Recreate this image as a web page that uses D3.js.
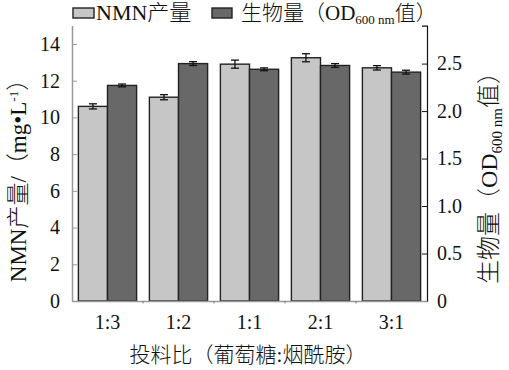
<!DOCTYPE html>
<html>
<head>
<meta charset="utf-8">
<script src="https://d3js.org/d3.v7.min.js"></script>
<style>
  body { margin:0; background:#fff; }
  text { font-family: "Liberation Serif", "Noto Sans CJK SC", serif; fill:#111; }
  .tick text { font-size:20px; }
  .cjk { font-weight:300; }
</style>
</head>
<body>
<script>
// ratio groups and values
var categories = ["1:3", "1:2", "1:1", "2:1", "3:1"];
var nmn    = [10.6, 11.1, 12.9, 13.25, 12.7];   // mg/L
var nmnErr = [0.14, 0.14, 0.22, 0.22, 0.12];
var od     = [2.27, 2.50, 2.44, 2.48, 2.41];    // OD600
var odErr  = [0.015, 0.02, 0.015, 0.02, 0.02];
var leftTicks  = [0, 2, 4, 6, 8, 10, 12, 14];
var rightTicks = [0, 0.5, 1.0, 1.5, 2.0, 2.5];

var W = 509, H = 370;
var pLeft = 72, pRight = 427, pTop = 25.6, pBottom = 301;

var svg = d3.select("body").append("svg")
    .attr("width", W).attr("height", H);

var x = d3.scaleBand().domain(categories).range([pLeft, pRight])
    .paddingInner(0.18).paddingOuter(0.09);
var x1 = d3.scaleBand().domain(["nmn", "od"]).range([0, x.bandwidth()]);

var yL = d3.scaleLinear().domain([0, 15]).range([pBottom, pTop]);
var yR = d3.scaleLinear().domain([0, 2.9]).range([pBottom, pTop]);

var cLight = "#c6c6c6", cDark = "#686868", cEdge = "#222";

var rows = categories.map((c, i) => ({cat: c, nmn: nmn[i], nmnErr: nmnErr[i], od: od[i], odErr: odErr[i]}));

// bars
var g = svg.append("g");
g.selectAll("rect.nmn").data(rows).enter().append("rect")
    .attr("x", d => x(d.cat) + x1("nmn"))
    .attr("y", d => yL(d.nmn))
    .attr("width", x1.bandwidth())
    .attr("height", d => pBottom - yL(d.nmn))
    .attr("fill", cLight).attr("stroke", cEdge).attr("stroke-width", 1.4);
g.selectAll("rect.od").data(rows).enter().append("rect")
    .attr("x", d => x(d.cat) + x1("od"))
    .attr("y", d => yR(d.od))
    .attr("width", x1.bandwidth())
    .attr("height", d => pBottom - yR(d.od))
    .attr("fill", cDark).attr("stroke", cEdge).attr("stroke-width", 1.4);

// error bars
function errBars(key, errKey, y, sub) {
  var eg = g.selectAll("g.e" + key).data(rows).enter().append("g")
      .attr("stroke", "#111").attr("stroke-width", 1.3);
  var cx = d => x(d.cat) + x1(sub) + x1.bandwidth() / 2;
  eg.append("line").attr("x1", cx).attr("x2", cx)
      .attr("y1", d => y(d[key] - d[errKey])).attr("y2", d => y(d[key] + d[errKey]));
  [1, -1].forEach(s => {
    eg.append("line").attr("x1", d => cx(d) - 4).attr("x2", d => cx(d) + 4)
      .attr("y1", d => y(d[key] + s * d[errKey])).attr("y2", d => y(d[key] + s * d[errKey]));
  });
}
errBars("nmn", "nmnErr", yL, "nmn");
errBars("od", "odErr", yR, "od");

// left axis
var axL = svg.append("g").attr("transform", "translate(" + pLeft + ",0)")
    .call(d3.axisLeft(yL).tickValues(leftTicks).tickSizeInner(-5).tickSizeOuter(0).tickPadding(12));
axL.select(".domain").attr("stroke", "#999").attr("stroke-width", 1.5);
axL.selectAll(".tick line").attr("stroke", "#999");

// right axis
var axR = svg.append("g").attr("transform", "translate(" + pRight + ",0)")
    .call(d3.axisRight(yR).tickValues(rightTicks).tickSizeInner(-5).tickSizeOuter(-5).tickPadding(10)
      .tickFormat(d => d === 0 ? "0" : d.toFixed(1)));
axR.select(".domain").attr("stroke", "#111").attr("stroke-width", 1.2);
axR.selectAll(".tick line").attr("stroke", "#111");

// bottom axis
var axB = svg.append("g").attr("transform", "translate(0," + pBottom + ")")
    .call(d3.axisBottom(x).tickSize(0).tickPadding(14).tickSizeOuter(0));
axB.select(".domain").attr("stroke", "#999").attr("stroke-width", 1.5);
axB.selectAll(".tick text").attr("dy", "0.71em");
axB.selectAll("line.sep").data(categories.slice(0, -1)).enter().append("line")
    .attr("class", "sep")
    .attr("x1", d => x(d) + x.bandwidth() + x.step() * x.paddingInner() / 2)
    .attr("x2", d => x(d) + x.bandwidth() + x.step() * x.paddingInner() / 2)
    .attr("y1", 0).attr("y2", 2.5).attr("stroke", "#777");

// axis titles
svg.append("text").attr("class", "cjk").attr("x", 248).attr("y", 362).attr("text-anchor", "middle")
    .style("font-size", "21px").text("投料比（葡萄糖:烟酰胺）");

var tl = svg.append("text").attr("class", "cjk").attr("text-anchor", "middle")
    .attr("transform", "translate(26,175) rotate(-90)").style("font-size", "23px");
tl.append("tspan").text("NMN产量/（mg•L");
tl.append("tspan").attr("dy", -8).style("font-size", "13px").text("-1");
tl.append("tspan").attr("dy", 8).text("）");

var tr = svg.append("text").attr("class", "cjk").attr("text-anchor", "middle")
    .attr("transform", "translate(497,172) rotate(-90)").style("font-size", "24px");
tr.append("tspan").text("生物量（OD");
tr.append("tspan").attr("dy", 5).style("font-size", "15px").text("600 nm");
tr.append("tspan").attr("dy", -5).text("值）");

// legend
var lg = svg.append("g").attr("class", "cjk");
lg.append("rect").attr("x", 73).attr("y", 8).attr("width", 21).attr("height", 10)
    .attr("fill", cLight).attr("stroke", cEdge).attr("stroke-width", 1.4);
lg.append("text").attr("x", 96).attr("y", 20).style("font-size", "22px").text("NMN产量");
lg.append("rect").attr("x", 212).attr("y", 8).attr("width", 20).attr("height", 10)
    .attr("fill", cDark).attr("stroke", cEdge).attr("stroke-width", 1.4);
var lt = lg.append("text").attr("x", 241).attr("y", 20).style("font-size", "21px");
lt.append("tspan").text("生物量（OD");
lt.append("tspan").attr("dy", 4).style("font-size", "13px").text("600 nm");
lt.append("tspan").attr("dy", -4).text("值）");
</script>
</body>
</html>
